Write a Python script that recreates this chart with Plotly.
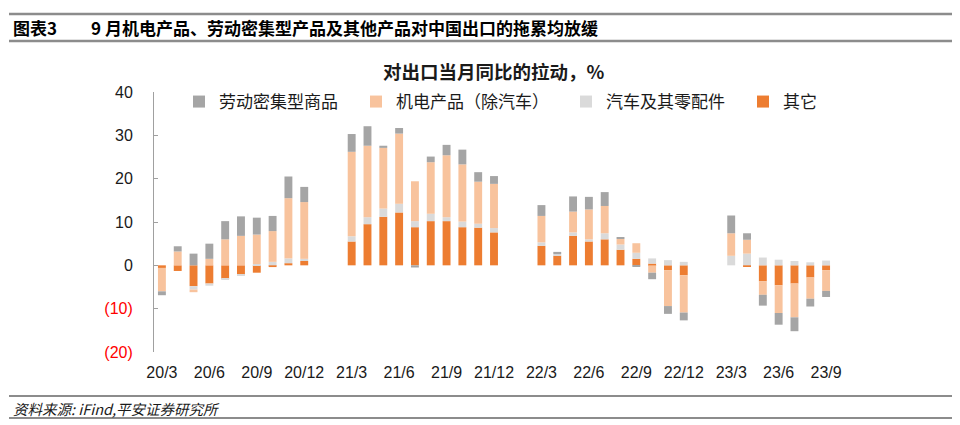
import plotly.graph_objects as go

months = (["20/%d" % m for m in range(3, 13)] + ["21/%d" % m for m in range(1, 13)]
          + ["22/%d" % m for m in range(1, 13)] + ["23/%d" % m for m in range(1, 10)])

tick_labels = ["20/3", "20/6", "20/9", "20/12", "21/3", "21/6", "21/9", "21/12",
               "22/3", "22/6", "22/9", "22/12", "23/3", "23/6", "23/9"]

other = ([-0.6, -1.3, -4.8, -4.2, -3.1, -2.2, -1.7, -0.4, 0.5, 1.0]
         + [None, None, 5.5, 9.5, 11.2, 12.2, 8.8, 10.2, 10.2, 8.8, 8.7, 7.6]
         + [None, None, 4.5, 2.2, 6.8, 5.5, 6.0, 3.6, 1.5, 0.4, -1.1, -2.3]
         + [None, None, 0.0, -0.2, -3.7, -4.6, -4.2, -2.8, -1.1])

auto = ([0.0, 0.0, -0.8, -0.5, -0.2, -0.1, 0.3, 0.8, 1.1, 0.5]
        + [None, None, 1.2, 1.6, 1.9, 2.0, 1.4, 1.7, 0.9, 1.3, 0.9, 1.0]
        + [None, None, 0.8, 0.4, 0.8, 0.5, 1.4, 1.2, 1.4, 1.2, 1.2, 0.8]
        + [None, None, 2.2, 2.7, 1.8, 1.3, 1.0, 0.7, 1.1])

mech = ([-5.4, 3.2, -0.6, 1.5, 6.0, 6.8, 6.8, 7.1, 13.9, 13.1]
        + [None, None, 19.5, 16.5, 14.0, 16.2, 9.2, 11.9, 14.3, 13.2, 9.7, 10.2]
        + [None, None, 6.1, 0.0, 4.8, 6.9, 6.3, 1.3, 2.2, -1.7, -8.3, -8.6]
        + [None, None, 5.2, 3.2, -3.1, -6.4, -7.8, -4.9, -4.8])

labor = ([-0.9, 1.2, 2.7, 3.5, 4.2, 4.5, 3.9, 3.5, 5.0, 3.5]
         + [None, None, 4.1, 4.5, 0.5, 1.3, -0.5, 1.3, 2.4, 3.4, 2.2, 1.8]
         + [None, None, 2.5, 0.5, 3.5, 2.9, 3.2, 0.4, -0.3, -1.5, -1.8, -1.8]
         + [None, None, 4.1, 1.5, -2.5, -2.7, -3.2, -1.8, -1.4])

y_ticks = [-20, -10, 0, 10, 20, 30, 40]

# ---- geometry (page pixels -> paper); the page body has an 8px margin ----
OFF = 8
W, H = 960 - OFF, 425 - OFF
L, R, T, B = 154 - OFF, 960 - 834, 92 - OFF, 425 - 352
PW, PH = W - L - R, H - T - B


def px(x):
    return (x - OFF - L) / PW


def py(y):
    return (H - B - (y - OFF)) / PH


idx = list(range(len(months)))
# (name, values, colour, legend id, legend left edge in page px)
series = [
    ("其它", other, "#ED7D31", "legend4", 743),
    ("汽车及其零配件", auto, "#DADADA", "legend3", 566),
    ("机电产品（除汽车）", mech, "#F8C39D", "legend2", 356),
    ("劳动密集型商品", labor, "#A5A5A5", "legend", 179),
]

cjk = "Noto Sans CJK SC, sans-serif"
font_family = "Liberation Sans, Arial, Noto Sans CJK SC, sans-serif"

fig = go.Figure()
legends = {}
for name, vals, col, lg, lx in series:
    fig.add_trace(go.Bar(x=idx, y=vals, name=name, legend=lg,
                         marker=dict(color=col, line=dict(width=0)),
                         customdata=months, hovertemplate="%{customdata}: %{y}<extra>" + name + "</extra>"))
    legends[lg] = dict(orientation="h", x=px(lx), y=py(102), xanchor="left", yanchor="middle",
                       font=dict(size=17, family=cjk, color="#1a1a1a"),
                       itemwidth=30, bgcolor="rgba(0,0,0,0)")

tickvals = [months.index(t) for t in tick_labels]
boundaries = [v - 0.5 for v in tickvals]

ytext = []
for v in y_ticks:
    if v < 0:
        ytext.append('<span style="color:#FF0000">(%d)</span>' % (-v))
    else:
        ytext.append(str(v))

fig.update_layout(
    width=W, height=H,
    margin=dict(l=L, r=R, t=T, b=B),
    paper_bgcolor="white", plot_bgcolor="white",
    barmode="relative", bargap=0.5,
    font=dict(family=font_family, size=16, color="#1a1a1a"),
    showlegend=True,
    xaxis=dict(range=[-0.5, len(months) - 0.5], tickmode="array", tickvals=tickvals, ticktext=tick_labels,
               showline=False, ticks="", showgrid=False, zeroline=False, ticklabelstandoff=9,
               tickfont=dict(size=16, color="#1a1a1a")),
    xaxis2=dict(overlaying="x", matches="x", anchor="free", position=py(265), side="bottom",
                tickmode="array", tickvals=boundaries, showticklabels=False, ticks="inside", ticklen=4,
                tickcolor="#8a8a8a", showline=True, linecolor="#8a8a8a", linewidth=1,
                showgrid=False, zeroline=False),
    yaxis=dict(range=[-20, 40], tickmode="array", tickvals=y_ticks, ticktext=ytext,
               showline=True, linecolor="#a0a0a0", linewidth=1, ticks="inside", ticklen=4, tickcolor="#a0a0a0",
               showgrid=False, zeroline=False, ticklabelstandoff=17,
               tickfont=dict(size=16, color="#1a1a1a")),
    **legends,
)

# header / footer lines
for yy, w in [(14, 2.5), (41, 2.5), (396, 2), (418, 2)]:
    fig.add_shape(type="line", xref="paper", yref="paper", x0=px(9), x1=px(953), y0=py(yy), y1=py(yy),
                  line=dict(color="#8c8c8c", width=w))

fig.add_annotation(text="<b>图表3</b>", xref="paper", yref="paper", x=px(11), y=py(27),
                   xanchor="left", yanchor="middle", showarrow=False,
                   font=dict(size=17, family=cjk, color="#000000"))
fig.add_annotation(text="<b>9 月机电产品、劳动密集型产品及其他产品对中国出口的拖累均放缓</b>", xref="paper", yref="paper",
                   x=px(89), y=py(27), xanchor="left", yanchor="middle", showarrow=False,
                   font=dict(size=17, family=cjk, color="#000000"))
fig.add_annotation(text="<b>对出口当月同比的拉动，%</b>", xref="paper", yref="paper",
                   x=px(494), y=py(71), xanchor="center", yanchor="middle", showarrow=False,
                   font=dict(size=18.5, family=cjk, color="#1a1a1a"))
fig.add_annotation(text="<i>资料来源: iFind,平安证券研究所</i>", xref="paper", yref="paper",
                   x=px(11), y=py(408), xanchor="left", yanchor="middle", showarrow=False,
                   font=dict(size=14.5, family=cjk, color="#1a1a1a"))

fig.write_html("out.html")
